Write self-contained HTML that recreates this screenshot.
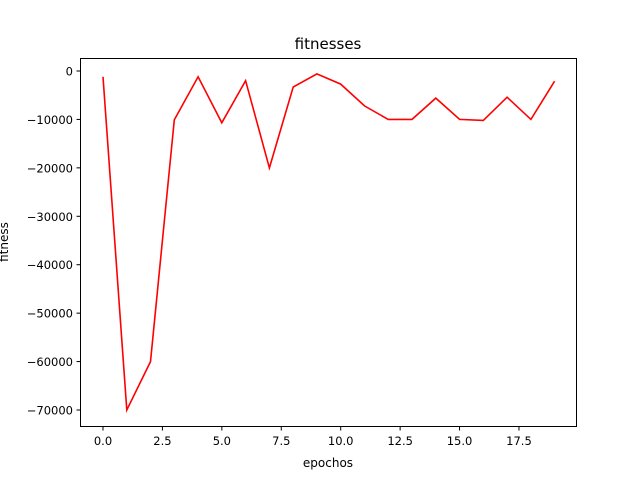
<!DOCTYPE html>
<html><head><meta charset="utf-8"><style>
body{margin:0;background:#fff;}
svg{display:block;font-family:"DejaVu Sans","Liberation Sans",sans-serif;}
</style></head><body>
<svg id="chart" width="640" height="480">
<rect width="640" height="480" fill="#fff"/>
<text x="328" y="49" text-anchor="middle" font-size="15">fitnesses</text>
<text x="328" y="467" text-anchor="middle" font-size="12">epochos</text>
<text transform="translate(8,242) rotate(-90)" text-anchor="middle" font-size="12">fitness</text>
<g id="ticks"></g>
<path id="line" fill="none" stroke="#ff0000" stroke-width="1.6"/>
<rect x="80.5" y="58.5" width="496" height="368" fill="none" stroke="#000" stroke-width="1"/>
</svg>
<script>
const epochs=[0,1,2,3,4,5,6,7,8,9,10,11,12,13,14,15,16,17,18,19];
const fitness=[-1200,-70000,-60000,-10100,-1200,-10700,-2000,-20000,-3300,-600,-2700,-7200,-10000,-10000,-5600,-10000,-10200,-5400,-10000,-2100];
const xTicks=[0,2.5,5,7.5,10,12.5,15,17.5];
const xTickLabels=["0.0","2.5","5.0","7.5","10.0","12.5","15.0","17.5"];
const yTicks=[0,-10000,-20000,-30000,-40000,-50000,-60000,-70000];
const yTickLabels=["0","−10000","−20000","−30000","−40000","−50000","−60000","−70000"];
const sx=v=>103+v*23.77;
const sy=v=>71-v*339/70000;
const NS="http://www.w3.org/2000/svg";
const g=document.getElementById('ticks');
function mk(t,a){const e=document.createElementNS(NS,t);for(const k in a)e.setAttribute(k,a[k]);g.appendChild(e);return e;}
xTicks.forEach((v,i)=>{
 const l=mk('line',{x1:sx(v),x2:sx(v),y1:427,y2:430.5,stroke:'#000'});
 
 
 const t=mk('text',{x:sx(v),y:445,'text-anchor':'middle','font-size':'11.5'});
 t.textContent=xTickLabels[i];
 
 
});
yTicks.forEach((v,i)=>{
 const l=mk('line',{x1:76.5,x2:80,y1:sy(v),y2:sy(v),stroke:'#000'});
 
 
 const t=mk('text',{x:73,y:sy(v)+4.5,'text-anchor':'end','font-size':'11.5'});
 t.textContent=yTickLabels[i];
 
 
});
document.getElementById('line').setAttribute('d',epochs.map((e,i)=>(i?'L':'M')+sx(e).toFixed(1)+','+sy(fitness[i]).toFixed(1)).join(''));
</script>
</body></html>
